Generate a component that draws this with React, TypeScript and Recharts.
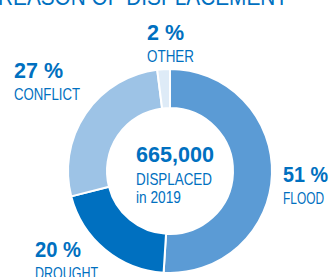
import { PieChart, Pie, Cell } from "recharts";

const reasons = ["FLOOD", "DROUGHT", "CONFLICT", "OTHER"];
const shares = [51, 20, 27, 2];
const sliceColors = ["#5b9bd5", "#0070c0", "#9dc3e6", "#deebf7"];
const totalDisplaced = "665,000";
const centerLines = ["DISPLACED", "in 2019"];

// outside labels: left edge, baseline of the % line, squeezed widths (font is narrow in the original)
const labelSpots = [
  { x: 283, y: 182, w: 45, nw: 41 },
  { x: 35, y: 257, w: 46, nw: 63 },
  { x: 14, y: 78, w: 49, nw: 66 },
  { x: 147, y: 40, w: 37, nw: 47 },
];

const data = reasons.map((name, i) => ({ name, value: shares[i] }));

const blue = "#0070c0";
const font = "'Liberation Sans', Arial, sans-serif";

export default function App() {
  return (
    <div style={{ position: "absolute", left: 0, top: 0, fontFamily: font }}>
      <PieChart width={331} height={277} margin={{ top: 0, right: 0, bottom: 0, left: 0 }}>
        <text x={-2} y={5} fill={blue} fontSize={23} fontFamily={font} textLength={290} lengthAdjust="spacingAndGlyphs">
          REASON OF DISPLACEMENT
        </text>
        <Pie
          data={data}
          dataKey="value"
          cx={170}
          cy={171}
          innerRadius={63}
          outerRadius={102}
          startAngle={90}
          endAngle={-270}
          stroke="#ffffff"
          strokeWidth={2}
          isAnimationActive={false}
          labelLine={false}
          label={false}
        >
          {data.map((d, i) => (
            <Cell key={d.name} fill={sliceColors[i]} />
          ))}
        </Pie>
        {data.map((d, i) => {
          const s = labelSpots[i];
          return (
            <g key={"lbl" + d.name}>
              <text x={s.x} y={s.y} fill={blue} fontSize={22} fontWeight="bold" fontFamily={font}
                textLength={s.w} lengthAdjust="spacingAndGlyphs">
                {d.value + " %"}
              </text>
              <text x={s.x} y={s.y + 22} fill={blue} fontSize={17} fontFamily={font}
                textLength={s.nw} lengthAdjust="spacingAndGlyphs">
                {d.name}
              </text>
            </g>
          );
        })}
        <text x={136} y={162} fill={blue} fontSize={22} fontWeight="bold" fontFamily={font}
          textLength={78} lengthAdjust="spacingAndGlyphs">
          {totalDisplaced}
        </text>
        <text x={136} y={185} fill={blue} fontSize={17} fontFamily={font}
          textLength={76} lengthAdjust="spacingAndGlyphs">
          {centerLines[0]}
        </text>
        <text x={136} y={203} fill={blue} fontSize={17} fontFamily={font}
          textLength={45} lengthAdjust="spacingAndGlyphs">
          {centerLines[1]}
        </text>
      </PieChart>
    </div>
  );
}
